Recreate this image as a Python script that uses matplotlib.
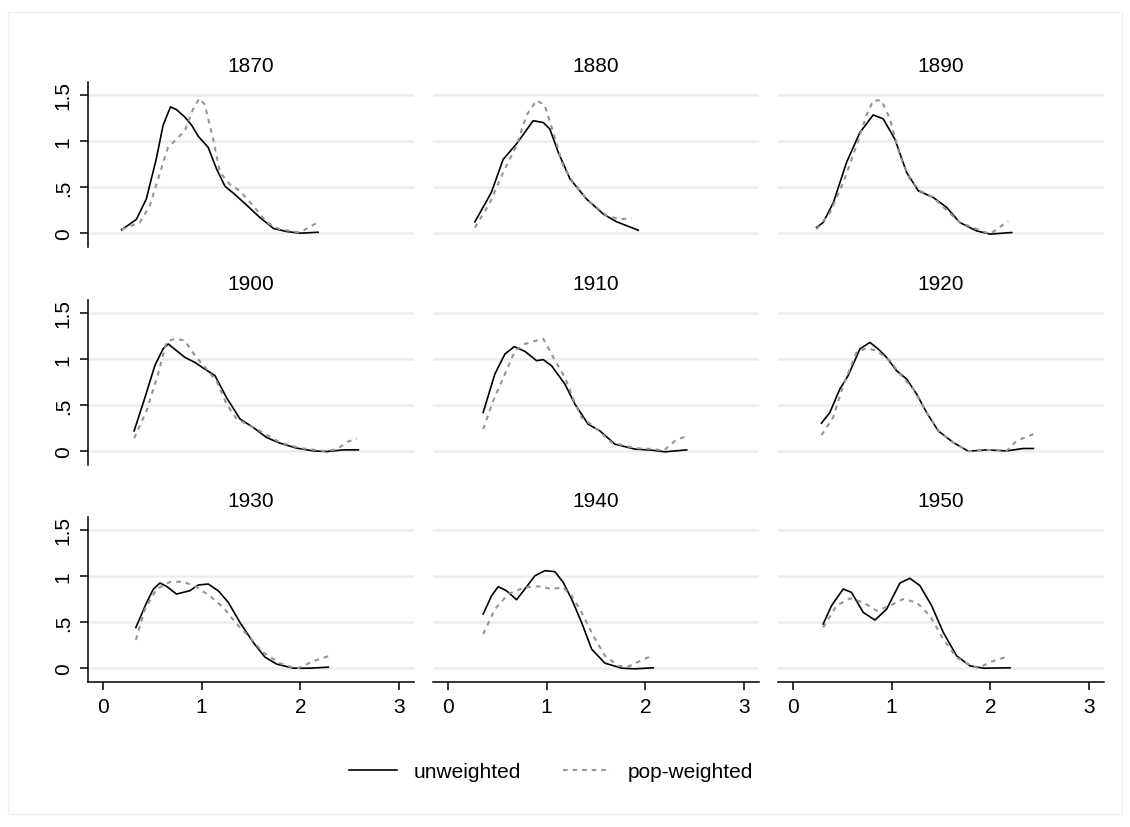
"""Kernel densities by decade, unweighted vs. pop-weighted."""
import matplotlib
matplotlib.use("Agg")
import matplotlib.pyplot as plt
from matplotlib.patches import Rectangle

plt.rcParams["font.family"] = ["Liberation Sans", "DejaVu Sans"]

YEARS = [1870, 1880, 1890, 1900, 1910, 1920, 1930, 1940, 1950]
XTICKS = [0, 1, 2, 3]
YTICKS = [0, 0.5, 1, 1.5]
YTICKLABELS = ["0", ".5", "1", "1.5"]

# unweighted densities
x1870_u = [0.19, 0.34, 0.44, 0.54, 0.61, 0.685, 0.746, 0.83, 0.90, 0.967, 1.067, 1.15,
           1.236, 1.337, 1.45, 1.59, 1.73, 1.86, 1.996, 2.18]
y1870_u = [0.036, 0.15, 0.37, 0.80, 1.17, 1.37, 1.34, 1.26, 1.17, 1.05, 0.93, 0.70,
           0.51, 0.42, 0.31, 0.17, 0.05, 0.018, 0.0, 0.01]
x1880_u = [0.274, 0.44, 0.56, 0.696, 0.864, 0.966, 1.033, 1.118, 1.236, 1.405, 1.574, 1.71, 1.928]
y1880_u = [0.123, 0.44, 0.80, 0.97, 1.22, 1.20, 1.13, 0.877, 0.59, 0.37, 0.207, 0.123, 0.032]
x1890_u = [0.24, 0.307, 0.41, 0.544, 0.68, 0.814, 0.915, 1.033, 1.152, 1.27, 1.42, 1.557,
           1.69, 1.86, 1.996, 2.216]
y1890_u = [0.062, 0.116, 0.33, 0.768, 1.094, 1.283, 1.24, 1.02, 0.659, 0.46, 0.388, 0.28,
           0.116, 0.025, -0.01, 0.007]
x1900_u = [0.317, 0.426, 0.527, 0.61, 0.662, 0.747, 0.83, 0.932, 1.033, 1.135, 1.253, 1.388,
           1.523, 1.658, 1.793, 1.962, 2.13, 2.266, 2.435, 2.587]
y1900_u = [0.22, 0.58, 0.93, 1.11, 1.163, 1.09, 1.018, 0.963, 0.89, 0.82, 0.58, 0.35,
           0.257, 0.148, 0.087, 0.033, 0.003, -0.004, 0.014, 0.014]
x1910_u = [0.358, 0.476, 0.578, 0.672, 0.78, 0.898, 0.966, 1.05, 1.185, 1.287, 1.42, 1.54,
           1.692, 1.895, 2.063, 2.198, 2.418]
y1910_u = [0.42, 0.837, 1.054, 1.134, 1.083, 0.982, 0.993, 0.927, 0.728, 0.51, 0.293, 0.22,
           0.076, 0.022, 0.011, -0.007, 0.014]
x1920_u = [0.29, 0.375, 0.476, 0.56, 0.679, 0.78, 0.864, 0.949, 1.05, 1.152, 1.253, 1.354,
           1.472, 1.624, 1.776, 1.962, 2.164, 2.333, 2.435]
y1920_u = [0.304, 0.42, 0.674, 0.82, 1.109, 1.18, 1.109, 1.018, 0.873, 0.783, 0.62, 0.42,
           0.22, 0.094, 0.0, 0.014, 0.003, 0.029, 0.029]
x1930_u = [0.334, 0.443, 0.51, 0.578, 0.645, 0.746, 0.88, 0.966, 1.067, 1.168, 1.27, 1.388,
           1.523, 1.641, 1.76, 1.929, 2.097, 2.283]
y1930_u = [0.44, 0.71, 0.855, 0.924, 0.888, 0.804, 0.84, 0.902, 0.913, 0.84, 0.714, 0.496,
           0.279, 0.12, 0.044, 0.0, 0.0, 0.011]
x1940_u = [0.358, 0.443, 0.51, 0.594, 0.696, 0.78, 0.882, 0.983, 1.084, 1.168, 1.253, 1.354,
           1.456, 1.591, 1.76, 1.895, 2.08]
y1940_u = [0.587, 0.786, 0.884, 0.84, 0.743, 0.859, 1.003, 1.058, 1.047, 0.931, 0.75, 0.496,
           0.206, 0.054, 0.0, -0.007, 0.004]
x1950_u = [0.307, 0.392, 0.51, 0.594, 0.713, 0.831, 0.95, 1.084, 1.185, 1.287, 1.405, 1.523,
           1.658, 1.793, 1.929, 2.198]
y1950_u = [0.478, 0.678, 0.859, 0.822, 0.605, 0.522, 0.641, 0.924, 0.975, 0.895, 0.678, 0.388,
           0.134, 0.025, 0.0, 0.004]

# population-weighted densities
x1870_w = [0.19, 0.374, 0.476, 0.56, 0.66, 0.746, 0.83, 0.915, 0.976, 1.03, 1.117, 1.185,
           1.286, 1.387, 1.52, 1.66, 1.79, 1.996, 2.18]
y1870_w = [0.04, 0.116, 0.30, 0.59, 0.93, 1.02, 1.11, 1.35, 1.46, 1.40, 1.02, 0.66,
           0.53, 0.46, 0.30, 0.116, 0.043, 0.007, 0.12]
x1880_w = [0.274, 0.426, 0.56, 0.696, 0.797, 0.898, 0.98, 1.067, 1.168, 1.27, 1.405, 1.607,
           1.74, 1.86]
y1880_w = [0.06, 0.33, 0.66, 0.95, 1.28, 1.44, 1.39, 1.094, 0.73, 0.55, 0.37, 0.19,
           0.152, 0.16]
x1890_w = [0.24, 0.375, 0.51, 0.645, 0.746, 0.814, 0.898, 0.983, 1.084, 1.185, 1.287, 1.42,
           1.69, 1.996, 2.18]
y1890_w = [0.043, 0.22, 0.55, 0.95, 1.28, 1.44, 1.44, 1.24, 0.84, 0.587, 0.46, 0.388,
           0.116, -0.01, 0.13]
x1900_w = [0.317, 0.443, 0.56, 0.645, 0.73, 0.83, 0.932, 1.05, 1.152, 1.253, 1.354, 1.557,
           1.793, 1.996, 2.232, 2.367, 2.47, 2.57]
y1900_w = [0.14, 0.44, 0.84, 1.185, 1.22, 1.2, 1.036, 0.89, 0.76, 0.51, 0.35, 0.24,
           0.094, 0.033, 0.003, 0.018, 0.1, 0.134]
x1910_w = [0.358, 0.459, 0.578, 0.68, 0.78, 0.898, 0.966, 1.067, 1.185, 1.27, 1.354, 1.49,
           1.658, 1.895, 2.097, 2.181, 2.30, 2.418]
y1910_w = [0.239, 0.547, 0.837, 1.09, 1.163, 1.2, 1.22, 1.018, 0.8, 0.565, 0.366, 0.257,
           0.094, 0.033, 0.022, 0.003, 0.112, 0.167]
x1920_w = [0.29, 0.408, 0.51, 0.645, 0.746, 0.848, 0.983, 1.084, 1.22, 1.354, 1.489, 1.624,
           1.776, 2.03, 2.164, 2.265, 2.435]
y1920_w = [0.174, 0.366, 0.71, 1.072, 1.116, 1.09, 0.982, 0.837, 0.674, 0.42, 0.203, 0.094,
           0.0, 0.014, 0.003, 0.112, 0.185]
x1930_w = [0.334, 0.426, 0.544, 0.679, 0.814, 0.949, 1.084, 1.22, 1.354, 1.489, 1.624, 1.793,
           1.962, 2.13, 2.283]
y1930_w = [0.308, 0.641, 0.858, 0.935, 0.939, 0.88, 0.782, 0.66, 0.48, 0.333, 0.17, 0.054,
           -0.007, 0.076, 0.13]
x1940_w = [0.358, 0.476, 0.612, 0.78, 0.915, 1.05, 1.168, 1.253, 1.354, 1.472, 1.591, 1.726,
           1.827, 1.929, 2.063]
y1940_w = [0.37, 0.641, 0.805, 0.877, 0.888, 0.859, 0.877, 0.786, 0.605, 0.351, 0.134, 0.025,
           0.018, 0.069, 0.134]
x1950_w = [0.307, 0.443, 0.578, 0.713, 0.848, 0.983, 1.118, 1.253, 1.388, 1.523, 1.658, 1.793,
           1.878, 1.996, 2.181]
y1950_w = [0.442, 0.678, 0.757, 0.714, 0.623, 0.678, 0.75, 0.714, 0.569, 0.315, 0.116, 0.033,
           0.0, 0.065, 0.13]

unweighted = [(x1870_u, y1870_u), (x1880_u, y1880_u), (x1890_u, y1890_u),
              (x1900_u, y1900_u), (x1910_u, y1910_u), (x1920_u, y1920_u),
              (x1930_u, y1930_u), (x1940_u, y1940_u), (x1950_u, y1950_u)]
weighted = [(x1870_w, y1870_w), (x1880_w, y1880_w), (x1890_w, y1890_w),
            (x1900_w, y1900_w), (x1910_w, y1910_w), (x1920_w, y1920_w),
            (x1930_w, y1930_w), (x1940_w, y1940_w), (x1950_w, y1950_w)]

W, H = 1130, 828
fig = plt.figure(figsize=(W / 100, H / 100), dpi=100)

# faint outer border like the stata graph region
fig.patches.append(Rectangle((8 / W, 1 - 815 / H), 1114 / W, 802 / H,
                             transform=fig.transFigure, fill=False,
                             edgecolor="#edf2f5", linewidth=1.0))

col_left = [88, 433, 778]
row_bottom = [248, 466, 683]
ax_w, ax_h = 326, 165
grid_col = "#e6eef2"
gray = "#959595"

for i, year in enumerate(YEARS):
    r, c = divmod(i, 3)
    ax = fig.add_axes([col_left[c] / W, 1 - row_bottom[r] / H, ax_w / W, ax_h / H])
    for yv in YTICKS:
        ax.axhline(yv, color=grid_col, linewidth=1.8, zorder=0)
    xu, yu = unweighted[i]
    xw, yw = weighted[i]
    lu, = ax.plot(xu, yu, color="black", linewidth=1.2, solid_joinstyle="round",
                  label="unweighted")
    lw, = ax.plot(xw, yw, color=gray, linewidth=1.5, linestyle=(0, (2.2, 2.4)),
                  label="pop-weighted")
    ax.set_xlim(-0.15, 3.15)
    ax.set_ylim(-0.15, 1.64)
    ax.set_title(str(year), fontsize=15, pad=8)
    for s in ["top", "right"]:
        ax.spines[s].set_visible(False)
    ax.spines["left"].set_visible(c == 0)
    ax.spines["bottom"].set_visible(r == 2)
    ax.spines["left"].set_linewidth(1.1)
    ax.spines["bottom"].set_linewidth(1.1)
    ax.set_xticks(XTICKS)
    ax.set_yticks(YTICKS)
    ax.set_yticklabels(YTICKLABELS)
    ax.tick_params(axis="both", length=6, width=1.1, labelsize=15, pad=5)
    ax.tick_params(axis="y", labelrotation=90)
    for t in ax.get_yticklabels():
        t.set_va("center")
    if c != 0:
        ax.tick_params(axis="y", left=False, labelleft=False)
    if r != 2:
        ax.tick_params(axis="x", bottom=False, labelbottom=False)

fig.legend([lu, lw], ["unweighted", "pop-weighted"], loc="center",
           bbox_to_anchor=(551 / W, 1 - 773 / H), ncol=2, frameon=False,
           fontsize=15, handlelength=2.3, handletextpad=0.8, columnspacing=2.0)

fig.savefig("out.png", dpi=100, facecolor="white")
